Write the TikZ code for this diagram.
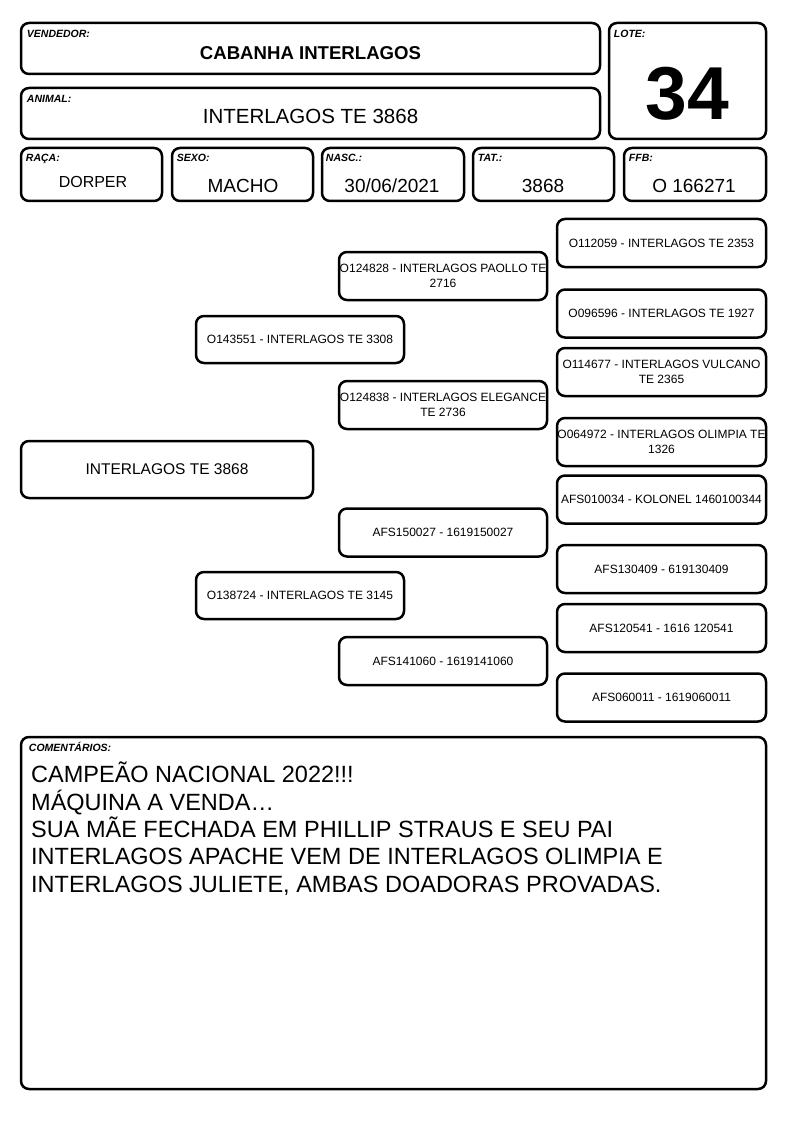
\documentclass[tikz,border=0pt]{standalone}
\usepackage{fontspec}
\setmainfont{Liberation Sans}
\tikzset{
	caixa/.style={draw, rounded corners=8pt, line width=2.5pt, inner sep=0pt, align=center},
	rotulo/.style={anchor=base west, inner sep=0pt, font=\fontsize{10.5}{12}\selectfont\bfseries\itshape},
	valor/.style={anchor=base, inner sep=0pt, font=\fontsize{19}{22}\selectfont},
	gen1/.style={caixa, minimum width=208pt, minimum height=47pt, font=\fontsize{12}{15}\selectfont},
	gen2/.style={caixa, minimum width=208pt, minimum height=48pt, font=\fontsize{12}{15}\selectfont},
	gen3/.style={caixa, minimum width=209pt, minimum height=48pt, font=\fontsize{12}{15}\selectfont}
}
\begin{document}
\begin{tikzpicture}[x=1pt,y=-1pt]
	\useasboundingbox (0,0) rectangle (794,1123);
%					Cabeçalho :
	\node[caixa, minimum width=579pt, minimum height=51pt] (vendedor) at (310.5,48.5) {};
	\node[caixa, minimum width=579pt, minimum height=51pt] (animal) at (310.5,113.5) {};
	\node[caixa, minimum width=157pt, minimum height=116pt] (lote) at (687.5,81) {};
	\node[rotulo] (lvendedor) at ([shift={(7,16)}]vendedor.north west) {VENDEDOR:};
	\node[rotulo] (lanimal) at ([shift={(7,16)}]animal.north west) {ANIMAL:};
	\node[rotulo] (llote) at ([shift={(6,16)}]lote.north west) {LOTE:};
	\node[valor, font=\fontsize{18.6}{22}\selectfont\bfseries] (vvendedor) at (310.5,60) {CABANHA INTERLAGOS};
	\node[valor, font=\fontsize{20.5}{24}\selectfont] (vanimal) at (310.5,123.5) {INTERLAGOS TE 3868};
	\node[valor, font=\fontsize{75}{80}\selectfont\bfseries] (vlote) at (687.5,119.5) {34};
%					Dados :
	\node[caixa, minimum width=141pt, minimum height=53pt] (raca) at (91.5,174.5) {};
	\node[caixa, minimum width=141pt, minimum height=53pt] (sexo) at (242.5,174.5) {};
	\node[caixa, minimum width=142pt, minimum height=53pt] (nasc) at (393,174.5) {};
	\node[caixa, minimum width=141pt, minimum height=53pt] (tat) at (543.5,174.5) {};
	\node[caixa, minimum width=142pt, minimum height=53pt] (ffb) at (695,174.5) {};
	\node[rotulo] (lraca) at ([shift={(6,15)}]raca.north west) {RAÇA:};
	\node[rotulo] (lsexo) at ([shift={(6,15)}]sexo.north west) {SEXO:};
	\node[rotulo] (lnasc) at ([shift={(5,15)}]nasc.north west) {NASC.:};
	\node[rotulo] (ltat) at ([shift={(6,15)}]tat.north west) {TAT.:};
	\node[rotulo] (lffb) at ([shift={(6,15)}]ffb.north west) {FFB:};
	\node[valor, font=\fontsize{16}{19}\selectfont] (vraca) at (93,188) {DORPER};
	\node[valor] (vsexo) at (243,193) {MACHO};
	\node[valor] (vnasc) at (392,193) {30/06/2021};
	\node[valor] (vtat) at (543,193) {3868};
	\node[valor] (vffb) at (694,193) {O 166271};
%					Genealogia :
	\node[caixa, minimum width=292pt, minimum height=57pt, font=\fontsize{15.5}{18}\selectfont] (animal0) at (167,469.5) {INTERLAGOS TE 3868};
	\node[gen1] (pai) at (300,339.5) {O143551 - INTERLAGOS TE 3308};
	\node[gen1] (mae) at (300,595.5) {O138724 - INTERLAGOS TE 3145};
	\node[gen2] (avopp) at (443,276) {O124828 - INTERLAGOS PAOLLO TE\\2716};
	\node[gen2] (avopm) at (443,405) {O124838 - INTERLAGOS ELEGANCE\\TE 2736};
	\node[gen2] (avomp) at (443,532.5) {AFS150027 - 1619150027};
	\node[gen2] (avomm) at (443,661) {AFS141060 - 1619141060};
	\node[gen3] (bis1) at (661.5,243) {O112059 - INTERLAGOS TE 2353};
	\node[gen3] (bis2) at (661.5,313.5) {O096596 - INTERLAGOS TE 1927};
	\node[gen3] (bis3) at (661.5,372) {O114677 - INTERLAGOS VULCANO\\TE 2365};
	\node[gen3] (bis4) at (661.5,442) {O064972 - INTERLAGOS OLIMPIA TE\\1326};
	\node[gen3] (bis5) at (661.5,499.5) {AFS010034 - KOLONEL 1460100344};
	\node[gen3] (bis6) at (661.5,569) {AFS130409 - 619130409};
	\node[gen3] (bis7) at (661.5,628) {AFS120541 - 1616 120541};
	\node[gen3] (bis8) at (661.5,697.5) {AFS060011 - 1619060011};
%					Comentários :
	\node[caixa, minimum width=745pt, minimum height=352pt] (coment) at (393.5,913) {};
	\node[rotulo] (lcoment) at ([shift={(9,16)}]coment.north west) {COMENTÁRIOS:};
	\node[anchor=north west, inner sep=0pt, align=left, font=\fontsize{23.5}{27.3}\selectfont] (tcoment) at (31,762) {CAMPEÃO NACIONAL 2022!!!\\MÁQUINA A VENDA…\\SUA MÃE FECHADA EM PHILLIP STRAUS E SEU PAI\\INTERLAGOS APACHE VEM DE INTERLAGOS OLIMPIA E\\INTERLAGOS JULIETE, AMBAS DOADORAS PROVADAS.};
\end{tikzpicture}
\end{document}
